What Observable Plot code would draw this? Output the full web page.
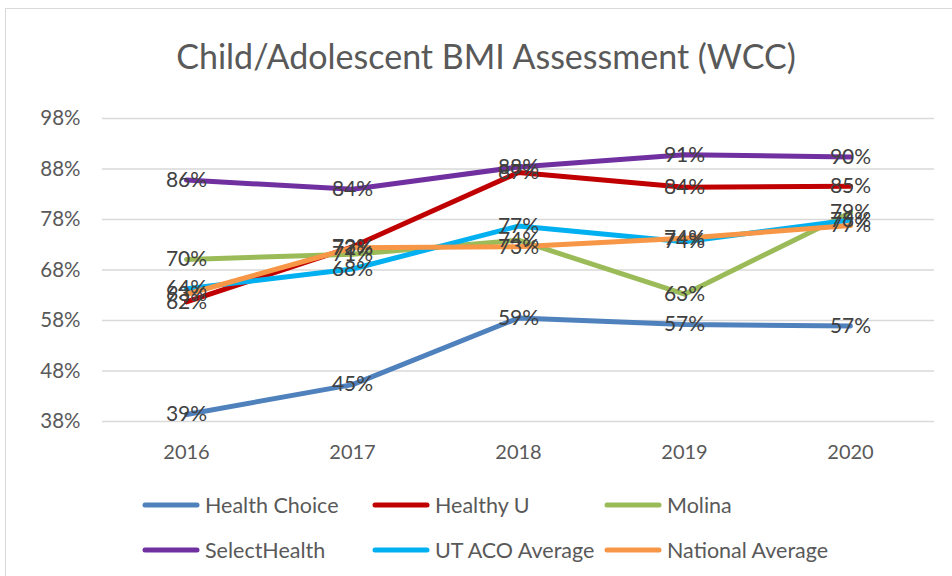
<!DOCTYPE html>
<html><head><meta charset="utf-8">
<script src="https://cdn.jsdelivr.net/npm/d3@7"></script>
<script src="https://cdn.jsdelivr.net/npm/@observablehq/plot@0.6"></script>
<style>
body{margin:0;background:#fff;font-family:Lato,"Open Sans",sans-serif}
#wrap{position:relative;width:952px;height:576px;overflow:hidden;background:#fff}
#frame{position:absolute;left:5px;top:8px;width:1000px;height:600px;border:1px solid #d9d9d9;box-sizing:border-box}
#title{position:absolute;left:0;width:972px;top:36px;text-align:center;font-size:34px;color:#595959;line-height:40px}
#chart{position:absolute;left:0;top:0}
.sw{position:absolute;width:58px;height:12px}
.lt{position:absolute;font-size:21.5px;color:#595959;line-height:26px;white-space:nowrap}
</style></head>
<body><div id="wrap"><div id="frame"></div><div id="chart"></div><div id="title">Child/Adolescent BMI Assessment (WCC)</div><div id="legend"></div></div>
<script>
const years = ["2016","2017","2018","2019","2020"];
const seriesNames = ["Health Choice","Healthy U","Molina","SelectHealth","UT ACO Average","National Average"];
const seriesColors = ["#4f81bd","#c00000","#9bbb59","#7030a0","#00b0f0","#f79646"];
const healthChoice = [39.4,45.3,58.5,57.2,56.9];
const healthyU = [61.7,72.6,87.3,84.4,84.6];
const molina = [70.1,71.1,73.9,63.2,79.4];
const selectHealth = [85.8,84.0,88.4,90.8,90.4];
const utAco = [64.3,68.2,76.7,73.6,77.9];
const national = [63.2,72.4,72.6,74.3,76.8];
const yTicks = [38,48,58,68,78,88,98];

const seriesValues = [healthChoice, healthyU, molina, selectHealth, utAco, national];
const data = [];
seriesNames.forEach((s,i)=>years.forEach((y,j)=>data.push({series:s, year:y, value:seriesValues[i][j]})));

const chart = Plot.plot({
  width:952, height:470,
  marginLeft:102, marginRight:18, marginTop:118, marginBottom:49,
  style:{fontFamily:"Lato, 'Open Sans', sans-serif", background:"transparent"},
  x:{type:"point", domain:years, padding:0.5},
  y:{domain:[38,98]},
  color:{domain:seriesNames, range:seriesColors},
  marks:[
    Plot.gridY(yTicks, {stroke:"#d9d9d9", strokeOpacity:1, strokeWidth:1.5}),
    Plot.axisY(yTicks, {tickSize:0, tickPadding:22, tickFormat:d=>d+"%", fontSize:20.5, fill:"#595959", label:null}),
    Plot.axisX({tickSize:0, tickPadding:23, fontSize:20, fill:"#595959", label:null}),
    Plot.line(data, {x:"year", y:"value", z:"series", stroke:"series", strokeWidth:5, strokeLinecap:"round", strokeLinejoin:"round"}),
    Plot.text(data, {x:"year", y:"value", text:d=>Math.round(d.value)+"%", fontSize:21, fill:"#404040"})
  ]
});
document.getElementById("chart").appendChild(chart);

const legend = document.getElementById("legend");
const colX = [145, 375, 607];
const rowY = [505, 550];
seriesNames.forEach((s,i)=>{
  const c = i%3, r = Math.floor(i/3);
  const sw = document.createElementNS("http://www.w3.org/2000/svg","svg");
  sw.setAttribute("class","sw");
  sw.style.left = (colX[c]-3)+"px"; sw.style.top = (rowY[r]-6)+"px";
  sw.innerHTML = `<line x1="3" y1="6" x2="55" y2="6" stroke="${seriesColors[i]}" stroke-width="5" stroke-linecap="round"/>`;
  legend.appendChild(sw);
  const t = document.createElement("div");
  t.className = "lt"; t.textContent = s;
  t.style.left = (colX[c]+60)+"px"; t.style.top = (rowY[r]-13)+"px";
  legend.appendChild(t);
});
</script></body></html>
